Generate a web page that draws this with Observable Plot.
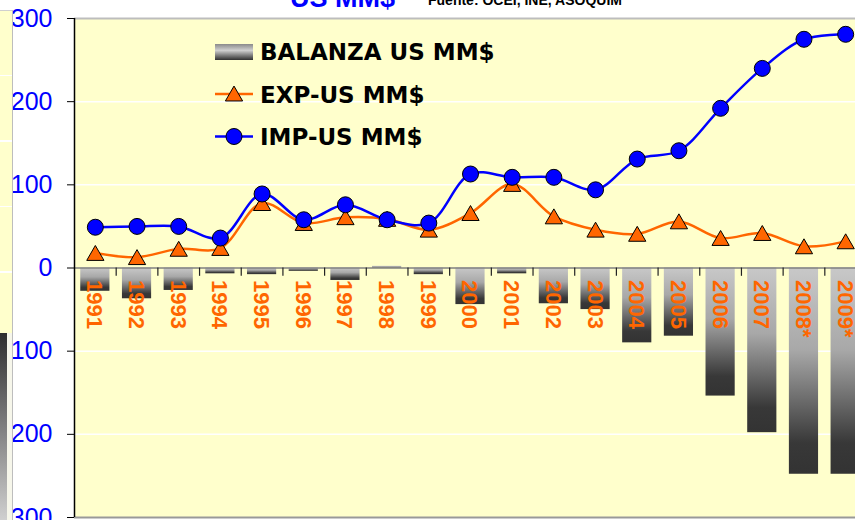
<!DOCTYPE html>
<html>
<head>
<meta charset="utf-8">
<script src="https://cdn.jsdelivr.net/npm/d3@7"></script>
<script src="https://cdn.jsdelivr.net/npm/@observablehq/plot@0.6"></script>
<style>
  html, body { margin: 0; padding: 0; background: #fff; overflow: hidden; }
  #wrap { position: relative; width: 855px; height: 520px; overflow: hidden; }
  #chart { position: absolute; left: 0; top: 0; }
  #overlay { position: absolute; left: 0; top: 0; pointer-events: none; }
  .strip { position: absolute; left: 0; top: 10px; width: 12px; height: 323px;
           background: #FFFFCC; border-right: 1.5px solid #bdbdbd; border-top: 1.5px solid #cfcfcf;
           background-image: repeating-linear-gradient(to bottom, transparent 0, transparent 64px, #fff 64px, #fff 65.5px); }
  .strip2 { position: absolute; left: 0; top: 333px; width: 7px; height: 190px;
            background: linear-gradient(to bottom, #2e2e2e, #d2d2d2); }
  .strip3 { position: absolute; left: 7px; top: 333px; width: 5px; height: 190px;
            background: #f6f6ea; border-right: 1.5px solid #bdbdbd; }
</style>
</head>
<body>
<div id="wrap">
  <div id="chart"></div>
  <div class="strip"></div>
  <div class="strip2"></div>
  <div class="strip3"></div>
  <svg id="overlay" width="855" height="520"></svg>
</div>
<script>
// ---- data ----
const years = ["1991","1992","1993","1994","1995","1996","1997","1998","1999","2000",
               "2001","2002","2003","2004","2005","2006","2007","2008*","2009*"];
const balanza = [-28,-37,-27,-7,-8,-4,-15,2,-8,-44,-7,-43,-50,-90,-82,-154,-198,-248,-248];
const expUS   = [18,13,23,24,78,54,61,59,46,66,101,62,46,41,56,36,42,26,32];
const impUS   = [49,50,50,36,89,58,76,58,54,113,109,109,94,131,141,192,240,275,281];
const yTicks  = [-300,-200,-100,0,100,200,300];
const gridVals = [-200,-100,100,200];
const legendLabels = ["BALANZA US MM$", "EXP-US MM$", "IMP-US MM$"];
const titleText = "US MM$";
const sourceText = "Fuente: OCEI, INE, ASOQUIM";

const data = years.map((year, i) => ({year, bal: balanza[i], exp: expUS[i], imp: impUS[i]}));

// ---- layout ----
const W = 855, H = 520;
const left = 74, right = 866;       // chart is cropped on the right in the reference
const step = (right - left) / years.length;
const pad = 0.3;
const xRange = [left - pad / 2 * step, right + pad / 2 * step];
const ORANGE = "#FF6600", BLUE = "#0000FF", BG = "#FFFFCC";

const defs = () => {
  const d = d3.create("svg:defs");
  const g = d.append("linearGradient").attr("id", "balGrad")
    .attr("x1", 0).attr("y1", 0).attr("x2", 0).attr("y2", 1);
  [[0, "#c8c8c8"], [0.4, "#a8a8a8"], [0.85, "#383838"], [1, "#333333"]]
    .forEach(([o, c]) => g.append("stop").attr("offset", o).attr("stop-color", c));
  return d.node();
};

const chart = Plot.plot({
  width: W, height: H,
  marginLeft: left, marginTop: 18, marginBottom: 3, marginRight: 0,
  style: {background: "transparent", fontFamily: "Liberation Sans, Arial, sans-serif"},
  x: {type: "band", domain: years, range: xRange, padding: pad, round: false, axis: null},
  y: {domain: [-300, 300], axis: null},
  marks: [
    defs,
    Plot.frame({fill: BG, stroke: null}),
    Plot.ruleY(gridVals, {stroke: "white", strokeWidth: 1.5}),
    Plot.ruleY([300], {stroke: "#bdbdbd", strokeWidth: 2}),
    Plot.ruleY([-300], {stroke: "#999", strokeWidth: 2}),
    Plot.barY(data, {x: "year", y: "bal", fill: "url(#balGrad)"}),
    Plot.ruleY([0], {stroke: "#808080", strokeWidth: 1.5}),
    Plot.ruleX(years.slice(1), {x: d => d, y1: 0, y2: -10, dx: -step / 2, stroke: "#222", strokeWidth: 1.2}),
    Plot.ruleX([years[0]], {x: d => d, dx: -step / 2, stroke: "black", strokeWidth: 1.5}),
    Plot.axisY({ticks: yTicks, tickSize: 7, tickPadding: 15, fontSize: 25,
                tickFormat: d => String(d), stroke: "black", fill: BLUE, label: null}),
    Plot.line(data, {x: "year", y: "exp", stroke: ORANGE, strokeWidth: 2.5, curve: "catmull-rom"}),
    Plot.dot(data, {x: "year", y: "exp", symbol: "triangle", r: 6.4, fill: ORANGE,
                    stroke: "black", strokeWidth: 1, dy: 2.4}),
    Plot.line(data, {x: "year", y: "imp", stroke: BLUE, strokeWidth: 2.5, curve: "catmull-rom"}),
    Plot.dot(data, {x: "year", y: "imp", r: 8, fill: BLUE, stroke: "black", strokeWidth: 1}),
    Plot.text(data, {x: "year", y: 0, text: "year", rotate: 90, textAnchor: "start",
                     dy: 12, dx: -1, fill: ORANGE, fontSize: 22, fontWeight: "bold"})
  ]
});
document.getElementById("chart").appendChild(chart);

// ---- title + legend overlay ----
const ov = d3.select("#overlay");
ov.append("text").attr("x", 290).attr("y", 7).text(titleText)
  .attr("fill", BLUE).attr("font-family", "Liberation Sans, Arial").attr("font-weight", "bold").attr("font-size", 27);
ov.append("text").attr("x", 428).attr("y", 5).text(sourceText)
  .attr("fill", "black").attr("font-family", "Liberation Sans, Arial").attr("font-weight", "bold").attr("font-size", 14);

const od = ov.append("defs").append("linearGradient").attr("id", "legGrad")
  .attr("x1", 0).attr("y1", 0).attr("x2", 0).attr("y2", 1);
[[0, "#8a8a8a"], [0.4, "#d0d0d0"], [1, "#303030"]]
  .forEach(([o, c]) => od.append("stop").attr("offset", o).attr("stop-color", c));

const lg = ov.append("g").attr("font-family", "DejaVu Sans, Verdana, sans-serif")
  .attr("font-weight", "bold").attr("font-size", 23).attr("fill", "black");
const rowY = [60, 103, 145];
lg.append("rect").attr("x", 215).attr("y", 44).attr("width", 38).attr("height", 16).attr("fill", "url(#legGrad)");
lg.append("line").attr("x1", 215).attr("x2", 253).attr("y1", 94).attr("y2", 94).attr("stroke", ORANGE).attr("stroke-width", 2.5);
lg.append("path").attr("d", d3.symbol(d3.symbolTriangle, Math.PI * 6.4 * 6.4)()).attr("transform", "translate(234,96)")
  .attr("fill", ORANGE).attr("stroke", "black");
lg.append("line").attr("x1", 215).attr("x2", 253).attr("y1", 136.5).attr("y2", 136.5).attr("stroke", BLUE).attr("stroke-width", 2.5);
lg.append("circle").attr("cx", 234).attr("cy", 136.5).attr("r", 8).attr("fill", BLUE).attr("stroke", "black");
legendLabels.forEach((t, i) => lg.append("text").attr("x", 260).attr("y", rowY[i]).text(t));
</script>
</body>
</html>
